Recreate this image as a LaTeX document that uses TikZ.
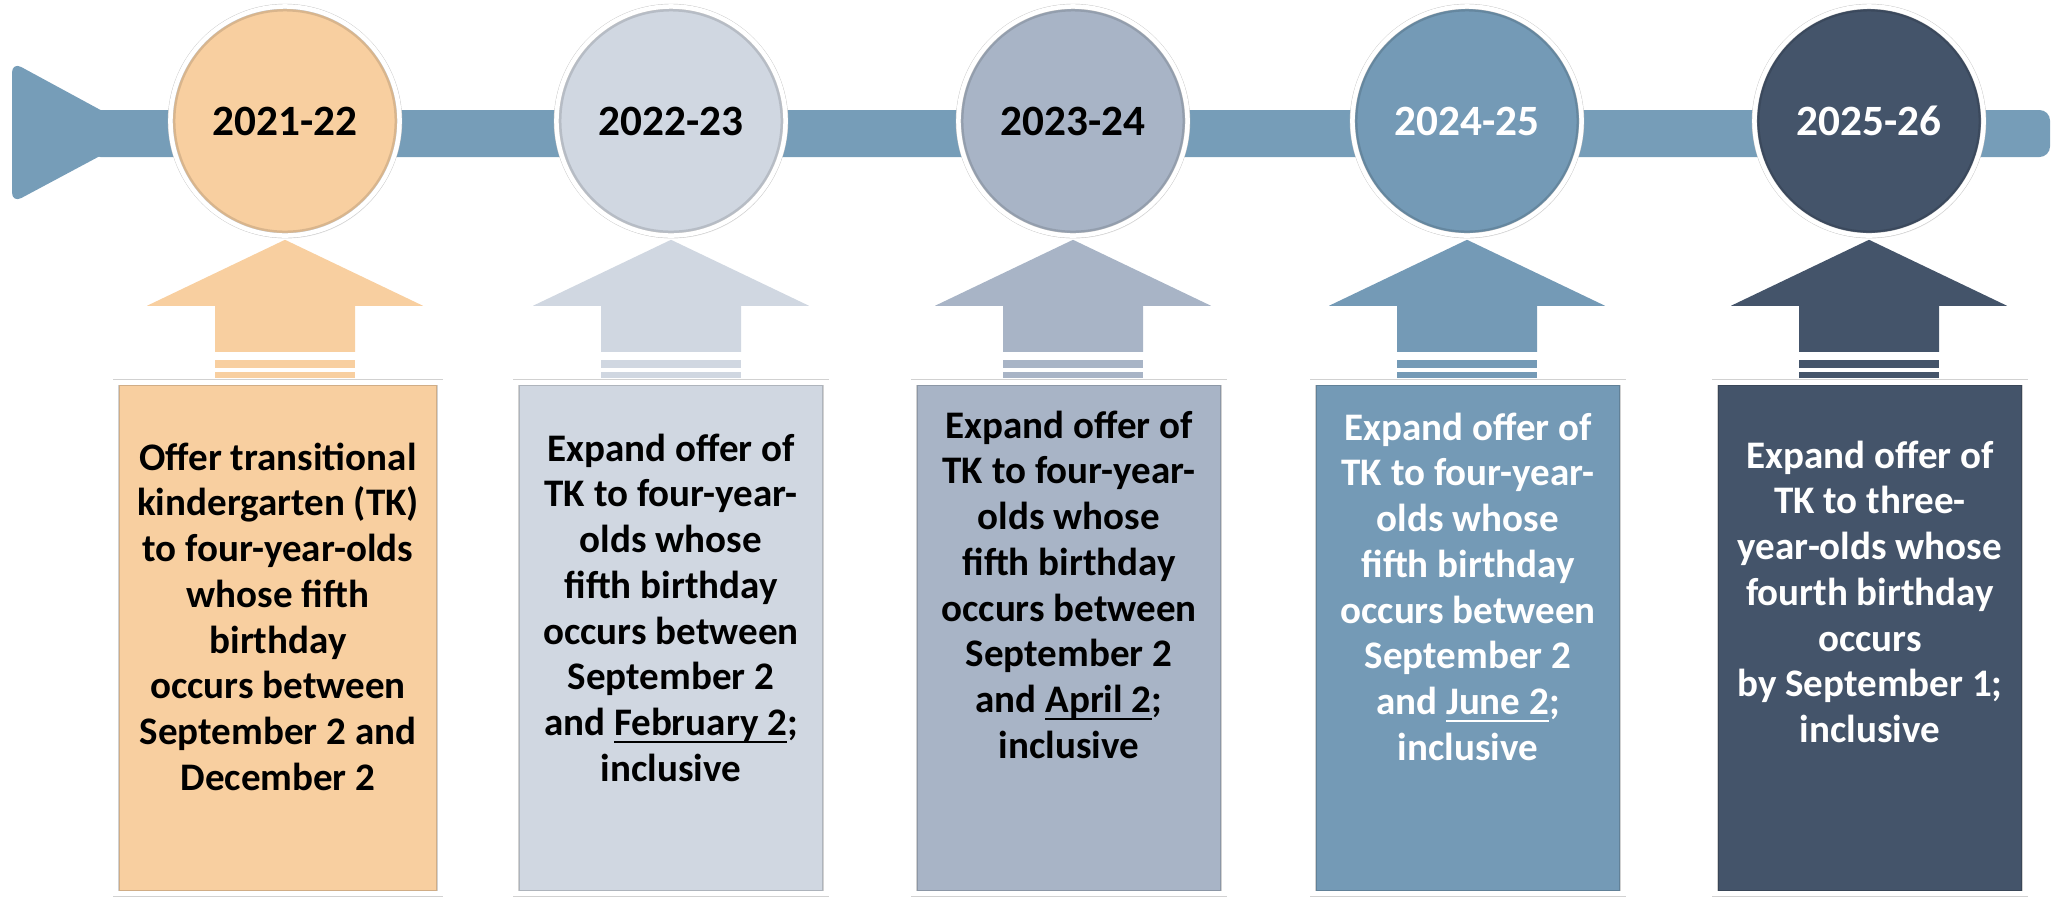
\documentclass[tikz,border=0pt]{standalone}
\usepackage{fontspec}
\setmainfont{Carlito}
\usetikzlibrary{calc,shadows}

\definecolor{BarBlue}{HTML}{769DB8}
\definecolor{Peach}{HTML}{F8CFA0}
\definecolor{Mist}{HTML}{D0D7E1}
\definecolor{Slate}{HTML}{A8B4C6}
\definecolor{Steel}{HTML}{749AB6}
\definecolor{Navy}{HTML}{44546A}

\newcommand{\DateUL}[1]{\setbox0\hbox{#1}\rlap{\rule[-2.2pt]{\wd0}{0.6pt}}\box0}
\newcommand{\StageArrow}[3]{
\fill[#3] ($(#1.south)+(0,4)$) -- ++(138,66) -- ++(-68,0) -- ++(0,46) -- ++(-140,0) -- ++(0,-46) -- ++(-68,0) -- cycle;
\fill[#3] ($(#1.south |- #2.north)+(-70,-22)$) rectangle ++(140,8);
\fill[#3] ($(#1.south |- #2.north)+(-70,-10)$) rectangle ++(140,6);
}
\tikzset{YearCircle/.style={circle,draw=black!22,double=white,double distance=0.045cm,line width=0.004cm,minimum size=2.29cm,inner sep=0pt,font=\fontsize{12.3}{14}\selectfont\bfseries,drop shadow={opacity=0.2,shadow xshift=0.4pt,shadow yshift=-0.8pt},path picture={\draw[black,opacity=0.12,line width=0.1cm] (path picture bounding box.center) circle (1.145cm);}}}
\tikzset{StageBox/.style={rectangle,draw=black!18,double=white,double distance=0.05cm,line width=0.005cm,minimum width=3.10cm,minimum height=5.11cm,inner sep=0pt,drop shadow={opacity=0.18,shadow xshift=0.5pt,shadow yshift=-0.5pt},path picture={\draw[black,opacity=0.16,line width=0.08cm] (path picture bounding box.south west) rectangle (path picture bounding box.north east);}}}
\tikzset{StageText/.style={anchor=north,align=center,inner sep=0pt,font=\fontsize{11.1}{13}\selectfont\bfseries}}

\begin{document}
\begin{tikzpicture}[x=0.01cm,y=-0.01cm]
\useasboundingbox (0,0) rectangle (2051,899);

% timeline bar
\fill[BarBlue,rounded corners=3pt] (12,62) -- (143,133) -- (12,203) -- cycle;
\fill[BarBlue,rounded corners=3pt] (90,110) rectangle (2050,157);

% years
\node[YearCircle,fill=Peach] (Y1) at (285,121) {2021-22};
\node[YearCircle,fill=Mist] (Y2) at (671,121) {2022-23};
\node[YearCircle,fill=Slate] (Y3) at (1073,121) {2023-24};
\node[YearCircle,fill=Steel,text=white] (Y4) at (1467,121) {2024-25};
\node[YearCircle,fill=Navy,text=white] (Y5) at (1869,121) {2025-26};

% stages
\node[StageBox,fill=Peach,minimum width=3.24cm] (B1) at (278,638) {};
\node[StageText] (T1) at (278,442) {Offer transitional\\kindergarten (TK)\\to four-year-olds\\whose fifth\\birthday\\occurs between\\September 2 and\\December 2};

\node[StageBox,fill=Mist] (B2) at (671,638) {};
\node[StageText] (T2) at (671,433) {Expand offer of\\TK to four-year-\\olds whose\\fifth birthday\\occurs between\\September 2\\and \DateUL{February 2};\\inclusive};

\node[StageBox,fill=Slate] (B3) at (1069,638) {};
\node[StageText] (T3) at (1069,410) {Expand offer of\\TK to four-year-\\olds whose\\fifth birthday\\occurs between\\September 2\\and \DateUL{April 2};\\inclusive};

\node[StageBox,fill=Steel] (B4) at (1468,638) {};
\node[StageText,text=white] (T4) at (1468,412) {Expand offer of\\TK to four-year-\\olds whose\\fifth birthday\\occurs between\\September 2\\and \DateUL{June 2};\\inclusive};

\node[StageBox,fill=Navy] (B5) at (1870,638) {};
\node[StageText,text=white] (T5) at (1870,440) {Expand offer of\\TK to three-\\year-olds whose\\fourth birthday\\occurs\\by September 1;\\inclusive};

% arrows up to the years
\StageArrow{Y1}{B1}{Peach}
\StageArrow{Y2}{B2}{Mist}
\StageArrow{Y3}{B3}{Slate}
\StageArrow{Y4}{B4}{Steel}
\StageArrow{Y5}{B5}{Navy}

\end{tikzpicture}
\end{document}
